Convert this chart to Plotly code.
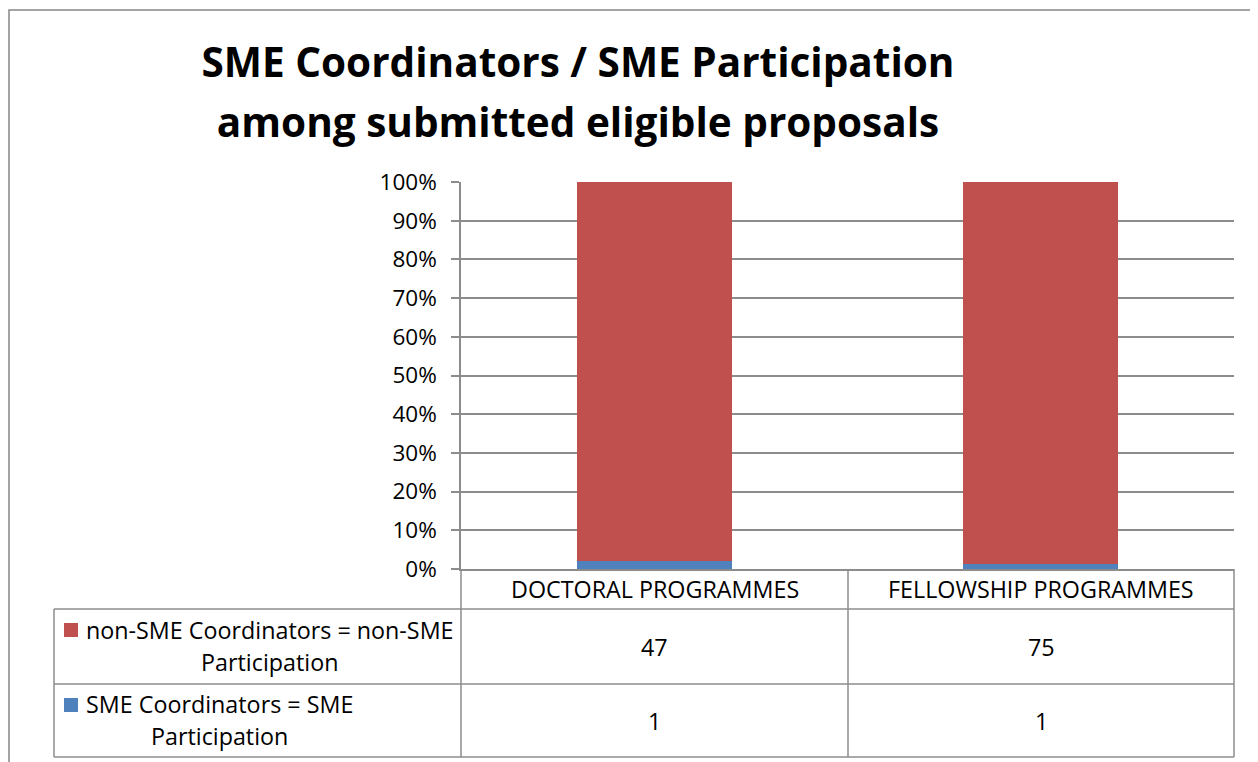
import plotly.graph_objects as go

W, H = 1258, 762
OFF = 8  # page body margin: the figure sits 8px inside the window

categories = ["DOCTORAL PROGRAMMES", "FELLOWSHIP PROGRAMMES"]
series_names = ["non-SME Coordinators = non-SME<br>Participation",
                "SME Coordinators = SME<br>Participation"]
non_sme = [47, 75]
sme = [1, 1]
y_ticks = [0, 10, 20, 30, 40, 50, 60, 70, 80, 90, 100]
y_tick_labels = [f"{v}%" for v in y_ticks]

RED = "#C0504D"
BLUE = "#4F81BD"
GRID = "#8c8c8c"
FONT = "Open Sans"


def X(px):
    return (px - OFF) / W


def Y(py):
    return 1 - (py - OFF) / H


fig = go.Figure()
fig.add_trace(go.Bar(x=categories, y=sme, name="SME", marker=dict(color=BLUE, line=dict(width=0))))
fig.add_trace(go.Bar(x=categories, y=non_sme, name="non-SME", marker=dict(color=RED, line=dict(width=0))))

# plot area geometry (window pixels)
L, R, T, B = 461, 1234, 182, 569
col_edges = [461, 848, 1234]
row_edges = [569, 609, 684, 757]
table_left = 54

shapes = []
line = dict(color=GRID, width=1.5)
# outer chart border
shapes.append(dict(type="rect", xref="paper", yref="paper", x0=X(9), x1=X(1285), y0=Y(10), y1=Y(790),
                   line=dict(color="#878787", width=1.5)))
for cx in col_edges:
    shapes.append(dict(type="line", xref="paper", yref="paper", x0=X(cx), x1=X(cx),
                       y0=Y(row_edges[0]), y1=Y(row_edges[-1]), line=line))
shapes.append(dict(type="line", xref="paper", yref="paper", x0=X(table_left), x1=X(table_left),
                   y0=Y(row_edges[1]), y1=Y(row_edges[-1]), line=line))
for ry in row_edges[1:]:
    shapes.append(dict(type="line", xref="paper", yref="paper", x0=X(table_left), x1=X(R),
                       y0=Y(ry), y1=Y(ry), line=line))

annotations = []
tfont = dict(family=FONT, size=23.3, color="black")
# header row
for i, c in enumerate(categories):
    xc = (col_edges[i] + col_edges[i + 1]) / 2
    annotations.append(dict(xref="paper", yref="paper", x=X(xc), y=Y((row_edges[0] + row_edges[1]) / 2),
                            text=c, showarrow=False, font=tfont, xanchor="center", yanchor="middle"))
# value rows
rows = [(series_names[0], non_sme, RED), (series_names[1], sme, BLUE)]
for r, (name, vals, col) in enumerate(rows):
    y0, y1 = row_edges[r + 1], row_edges[r + 2]
    yc = (y0 + y1) / 2
    for i, v in enumerate(vals):
        xc = (col_edges[i] + col_edges[i + 1]) / 2
        annotations.append(dict(xref="paper", yref="paper", x=X(xc), y=Y(yc),
                                text=str(v), showarrow=False, font=tfont,
                                xanchor="center", yanchor="middle"))
    # legend key
    ky = y0 + 21
    shapes.append(dict(type="rect", xref="paper", yref="paper", x0=X(64), x1=X(78),
                       y0=Y(ky - 7), y1=Y(ky + 7), fillcolor=col, line=dict(width=0)))
    txt = "<br>".join('<span style="font-size:23.3px">%s</span>' % s for s in name.split("<br>"))
    annotations.append(dict(xref="paper", yref="paper", x=X(84), y=Y(yc - 1), text=txt,
                            showarrow=False, font=dict(family=FONT, size=24.6, color="black"),
                            xanchor="left", yanchor="middle", align="center"))

fig.update_layout(
    template="none",
    width=W, height=H,
    margin=dict(l=0, r=0, t=0, b=0, pad=0, autoexpand=False),
    paper_bgcolor="white", plot_bgcolor="white",
    barmode="stack", barnorm="percent", bargap=0.6,
    showlegend=False,
    title=dict(
        text='<b><span style="font-size:40.5px">SME Coordinators / SME Participation</span></b><br>'
             '<b><span style="font-size:40.5px">among submitted eligible proposals</span></b>',
        x=X(578), xanchor="center", y=Y(77), yanchor="middle", yref="container", xref="paper",
        font=dict(family=FONT, size=46, color="black")),
    xaxis=dict(domain=[X(L), X(R)], range=[-0.5, 1.5], showticklabels=False, showgrid=False,
               showline=True, linecolor=GRID, linewidth=1.5, zeroline=False, ticks="",
               automargin=False, fixedrange=True),
    yaxis=dict(domain=[Y(B), Y(T)], range=[0, 100], tickmode="array", tickvals=y_ticks,
               ticktext=y_tick_labels,
               showgrid=True, gridcolor=GRID, gridwidth=1.5, zeroline=False,
               showline=True, linecolor=GRID, linewidth=1.5,
               ticks="outside", ticklen=8, tickcolor=GRID, tickwidth=1.5,
               ticklabelstandoff=10, automargin=False,
               tickfont=dict(family=FONT, size=22.5, color="black")),
    shapes=shapes, annotations=annotations,
    font=dict(family=FONT),
)

fig.write_html("out.html")
